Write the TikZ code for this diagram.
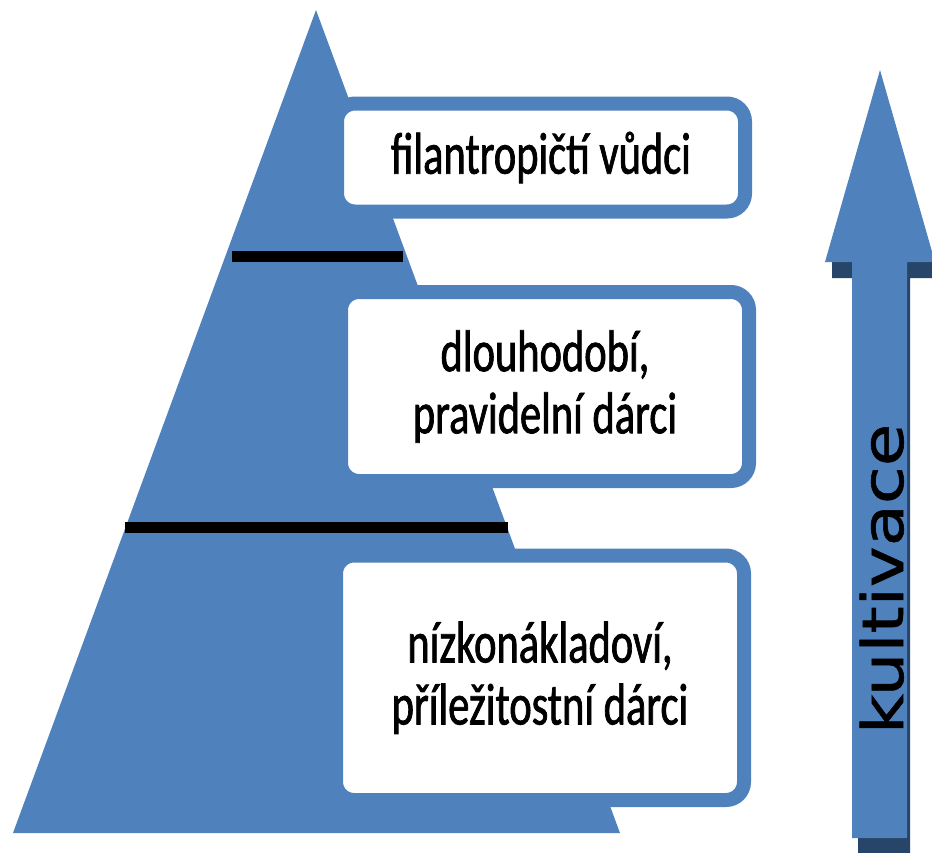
\documentclass[tikz,border=0pt]{standalone}
\usepackage{fontspec}
\newfontfamily\boxfont[FakeStretch=0.72,FakeBold=1.2]{Carlito}
\newfontfamily\arrowfont[FakeStretch=1.21,FakeBold=1]{DejaVu Sans}
\definecolor{pblue}{HTML}{4F81BD}
\definecolor{pshadow}{HTML}{274469}
\begin{document}
\begin{tikzpicture}[x=1pt,y=-1pt,
  boxnode/.style={draw=pblue, fill=white, line width=14pt, rounded corners=18pt,
    inner sep=0pt, align=center, minimum width=408pt,
    font=\boxfont\fontsize{59}{62}\selectfont},
  tierline/.style={line width=11pt, black},
  arrowtext/.style={rotate=90, anchor=base, inner sep=0pt,
    font=\arrowfont\fontsize{57}{60}\selectfont}
]
\useasboundingbox (0,0) rectangle (932,852);
% pyramid
\coordinate (apex) at (316,10);
\coordinate (bl) at (13,833);
\coordinate (br) at (620,833);
\fill[pblue] (apex) -- (bl) -- (br) -- cycle;
% tier separators
\coordinate (l1a) at (232,256);
\coordinate (l1b) at (403,256);
\coordinate (l2a) at (125,527.5);
\coordinate (l2b) at (508,527.5);
\draw[tierline] (l1a) -- (l1b);
\draw[tierline] (l2a) -- (l2b);
% boxes
\node[boxnode, minimum height=108pt] (top) at (541,157.5) {filantropičtí vůdci};
\node[boxnode, minimum height=189pt] (mid) at (545,386.5) {dlouhodobí,\\pravidelní dárci};
\node[boxnode, minimum height=244.5pt] (bot) at (540,677.75) {nízkonákladoví,\\příležitostní dárci};
% arrow shadow
\fill[pshadow] (858,853) -- (858,278) -- (832,278) -- (832,262) -- (940,262) -- (940,278) -- (910,278) -- (910,853) -- cycle;
% arrow
\fill[pblue] (852,838) -- (852,262) -- (825,262) -- (880,70) -- (935,262) -- (907,262) -- (907,838) -- cycle;
\node[arrowtext] (kult) at (903,579) {kultivace};
\end{tikzpicture}
\end{document}
